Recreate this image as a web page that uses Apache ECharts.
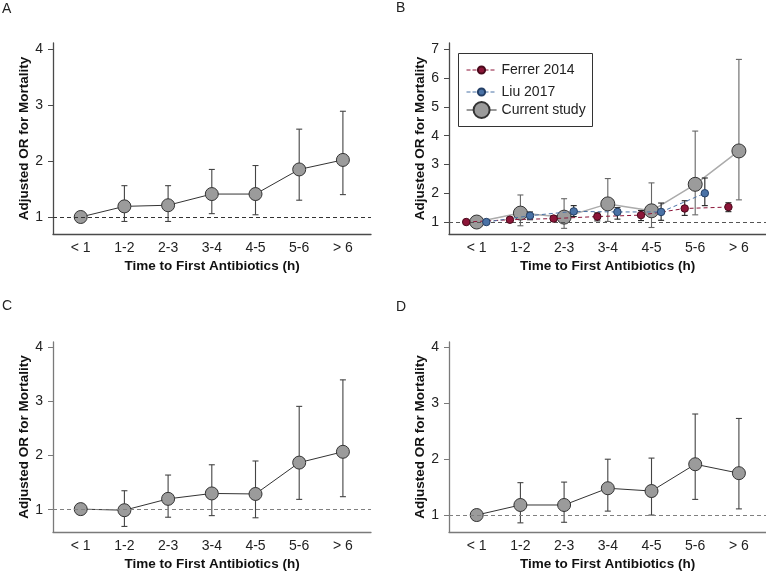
<!DOCTYPE html>
<html>
<head>
<meta charset="utf-8">
<script src="https://cdn.jsdelivr.net/npm/echarts@6/dist/echarts.min.js"></script>
<style>
  html, body { margin: 0; padding: 0; background: #fff; }
  #chart { width: 766px; height: 572px; }
</style>
</head>
<body>
<div id="chart"></div>
<script>
// ---------- data ----------
const categories = ['< 1', '1-2', '2-3', '3-4', '4-5', '5-6', '> 6']

// A
const aOR = [1.0, 1.19, 1.21, 1.41, 1.41, 1.85, 2.02]
const aLow = [null, 0.92, 0.92, 1.06, 1.04, 1.30, 1.40]
const aHigh = [null, 1.56, 1.56, 1.85, 1.92, 2.57, 2.89]

// B - current study
const bOR = [1.0, 1.31, 1.17, 1.63, 1.39, 2.31, 3.47]
const bLow = [null, 0.87, 0.78, 1.02, 0.81, 1.25, 1.77]
const bHigh = [null, 1.94, 1.81, 2.51, 2.36, 4.16, 6.65]
// B - Ferrer 2014
const ferrerOR = [1.0, 1.08, 1.12, 1.19, 1.24, 1.47, 1.52]
const ferrerLow = [null, 1.01, 1.03, 1.04, 1.05, 1.23, 1.36]
const ferrerHigh = [null, 1.16, 1.22, 1.32, 1.40, 1.74, 1.67]
// B - Liu 2017
const liuOR = [1.0, 1.22, 1.37, 1.35, 1.35, 2.0, null]
const liuLow = [null, 1.08, 1.19, 1.10, 1.06, 1.57, null]
const liuHigh = [null, 1.35, 1.57, 1.50, 1.66, 2.53, null]

// C
const cOR = [1.01, 0.99, 1.20, 1.30, 1.29, 1.87, 2.07]
const cLow = [null, 0.69, 0.86, 0.89, 0.85, 1.19, 1.24]
const cHigh = [null, 1.35, 1.64, 1.83, 1.90, 2.91, 3.40]

// D
const dOR = [1.0, 1.18, 1.18, 1.48, 1.43, 1.91, 1.75]
const dLow = [null, 0.86, 0.87, 1.07, 1.0, 1.28, 1.11]
const dHigh = [null, 1.58, 1.59, 2.0, 2.02, 2.81, 2.73]

const yTicksSmall = [1, 2, 3, 4]
const yTicksB = [1, 2, 3, 4, 5, 6, 7]

// ---------- helpers ----------
const FONT = 'Liberation Sans, Arial, Helvetica, sans-serif'
const catIdx = categories.map((c, i) => i)

function points(vals, shift) {
  return vals.map((v, i) => [i + shift, v]).filter(p => p[1] != null)
}

function bars(low, high, shift) {
  return low.map((l, i) => [i + shift, l, high[i]]).filter(p => p[1] != null)
}

function errorBarSeries(name, idx, low, high, shift, color, z) {
  return {
    name: name + ' CI',
    type: 'custom',
    xAxisIndex: idx,
    yAxisIndex: idx,
    z: z,
    silent: true,
    data: bars(low, high, shift),
    renderItem: (params, api) => {
      const x = api.value(0)
      const top = api.coord([x, api.value(2)])
      const bot = api.coord([x, api.value(1)])
      const w = 3
      const style = { stroke: color, lineWidth: 1.1 }
      return {
        type: 'group',
        children: [
          { type: 'line', shape: { x1: top[0], y1: top[1], x2: bot[0], y2: bot[1] }, style },
          { type: 'line', shape: { x1: top[0] - w, y1: top[1], x2: top[0] + w, y2: top[1] }, style },
          { type: 'line', shape: { x1: bot[0] - w, y1: bot[1], x2: bot[0] + w, y2: bot[1] }, style }
        ]
      }
    }
  }
}

function refLine(color) {
  return {
    silent: true,
    symbol: ['none', 'none'],
    label: { show: false },
    lineStyle: { type: [4, 3], color: color, width: 1 },
    data: [{ yAxis: 1 }]
  }
}

function pointSeries(name, idx, vals, opts) {
  return {
    name: name,
    type: 'line',
    xAxisIndex: idx,
    yAxisIndex: idx,
    z: opts.z,
    data: points(vals, opts.shift || 0),
    symbol: 'circle',
    symbolSize: opts.size,
    lineStyle: { color: opts.lineColor, width: opts.lineWidth || 1, type: opts.lineType || 'solid' },
    itemStyle: { color: opts.fill, borderColor: opts.border, borderWidth: 1 },
    markLine: opts.refColor ? refLine(opts.refColor) : undefined
  }
}

// grid layout per panel
const grids = [
  { left: 53, top: 43, width: 318, height: 191 },
  { left: 449, top: 43, width: 317, height: 191 },
  { left: 53, top: 342, width: 318, height: 191 },
  { left: 449, top: 342, width: 317, height: 191 }
]
const yRanges = [[0.696, 4.11], [0.584, 7.22], [0.587, 4.10], [0.696, 4.10]]
const xRanges = [[-0.634, 6.643], [-0.634, 6.62], [-0.634, 6.643], [-0.634, 6.62]]
const axisColors = ['#4a4a4a', '#4a4a4a', '#7a7a7a', '#7a7a7a']

const xAxes = grids.map((g, i) => ({
  type: 'value',
  gridIndex: i,
  min: xRanges[i][0],
  max: xRanges[i][1],
  axisLine: { show: true, onZero: false, lineStyle: { color: axisColors[i], width: 1.3 } },
  axisTick: { show: false },
  splitLine: { show: false },
  axisLabel: {
    customValues: catIdx,
    formatter: v => categories[Math.round(v)],
    margin: 7,
    fontSize: 14,
    fontFamily: FONT,
    color: '#222'
  },
  name: 'Time to First Antibiotics (h)',
  nameLocation: 'middle',
  nameGap: 25,
  nameTextStyle: { fontSize: 13.5, fontWeight: 'bold', fontFamily: FONT, color: '#111' }
}))

const yAxes = grids.map((g, i) => {
  const ticks = i === 1 ? yTicksB : yTicksSmall
  return {
    type: 'value',
    gridIndex: i,
    min: yRanges[i][0],
    max: yRanges[i][1],
    axisLine: { show: true, onZero: false, lineStyle: { color: axisColors[i], width: 1.3 } },
    axisTick: { show: true, length: 5, customValues: ticks, lineStyle: { color: axisColors[i] } },
    splitLine: { show: false },
    axisLabel: { customValues: ticks, margin: 10, fontSize: 14, fontFamily: FONT, color: '#222' },
    name: 'Adjusted OR for Mortality',
    nameLocation: 'middle',
    nameGap: 19,
    nameTextStyle: { fontSize: 13.5, fontWeight: 'bold', fontFamily: FONT, color: '#111' }
  }
})

const GREY = '#9b9b9b'
const DARK = '#333'
const RED = '#8c1538'
const BLUE = '#4a72a6'
const shiftF = -0.24
const shiftL = 0.22

const series = [
  // A
  errorBarSeries('A', 0, aLow, aHigh, 0, '#444', 2),
  pointSeries('A', 0, aOR, { size: 13, fill: GREY, border: DARK, lineColor: DARK, z: 3, refColor: '#333' }),
  // B
  errorBarSeries('Ferrer 2014', 1, ferrerLow, ferrerHigh, shiftF, '#222', 4),
  errorBarSeries('Liu 2017', 1, liuLow, liuHigh, shiftL, '#222', 4),
  errorBarSeries('Current study', 1, bLow, bHigh, 0, '#666', 2),
  pointSeries('Current study', 1, bOR, { size: 14, fill: GREY, border: DARK, lineColor: '#ababab', lineWidth: 1.5, z: 3, refColor: '#555' }),
  pointSeries('Ferrer 2014', 1, ferrerOR, { shift: shiftF, size: 7.5, fill: RED, border: '#4a0a1c', lineColor: RED, lineType: [4, 3], z: 5 }),
  pointSeries('Liu 2017', 1, liuOR, { shift: shiftL, size: 7.5, fill: BLUE, border: '#243f66', lineColor: BLUE, lineType: [4, 3], z: 5 }),
  // C
  errorBarSeries('C', 2, cLow, cHigh, 0, '#444', 2),
  pointSeries('C', 2, cOR, { size: 13, fill: GREY, border: DARK, lineColor: DARK, z: 3, refColor: '#808080' }),
  // D
  errorBarSeries('D', 3, dLow, dHigh, 0, '#444', 2),
  pointSeries('D', 3, dOR, { size: 13, fill: GREY, border: DARK, lineColor: DARK, z: 3, refColor: '#808080' })
]

function legendFor(name, top, itemHeight, lineStyle) {
  return {
    data: [name],
    left: 466,
    top: top,
    padding: 0,
    itemWidth: 30,
    itemHeight: itemHeight,
    selectedMode: false,
    textStyle: { fontSize: 14, fontFamily: FONT, color: '#222' },
    lineStyle: lineStyle
  }
}

const panelLabels = [
  { text: 'A', left: 2, top: 2 },
  { text: 'B', left: 396, top: 1 },
  { text: 'C', left: 2, top: 299 },
  { text: 'D', left: 396, top: 300 }
].map(t => Object.assign(t, {
  padding: 0,
  textStyle: { fontSize: 14, fontWeight: 'normal', fontFamily: FONT, color: '#222' }
}))

const chart = echarts.init(document.getElementById('chart'))
chart.setOption({
  animation: false,
  backgroundColor: '#fff',
  title: panelLabels,
  grid: grids,
  xAxis: xAxes,
  yAxis: yAxes,
  legend: [
    legendFor('Ferrer 2014', 63, 9, { color: RED, width: 1, type: 'dashed', dashOffset: 0 }),
    legendFor('Liu 2017', 85, 9, { color: BLUE, width: 1, type: 'dashed', dashOffset: 0 }),
    legendFor('Current study', 101, 20, { color: '#555', width: 1.2, type: 'solid' })
  ],
  graphic: [{
    type: 'rect',
    left: 458,
    top: 53,
    z: 1,
    shape: { width: 134, height: 73 },
    style: { fill: '#fff', stroke: '#333', lineWidth: 1 }
  }],
  series: series
})
</script>
</body>
</html>
